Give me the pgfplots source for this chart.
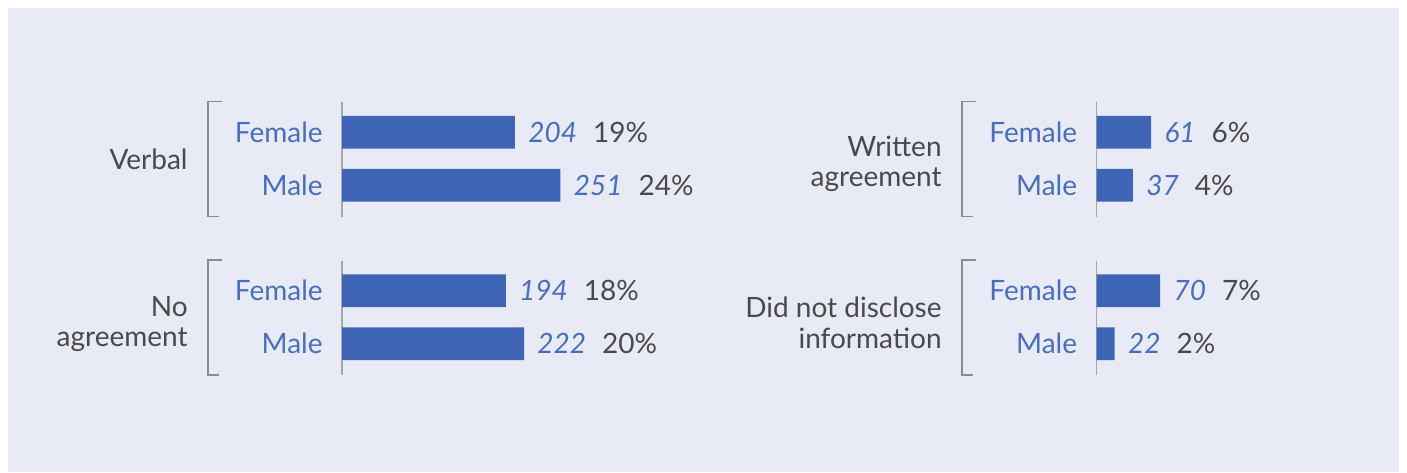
\documentclass[border=0pt]{standalone}
\usepackage{pgfplots}
\pgfplotsset{compat=1.18}
\usepackage{fontspec}
\setmainfont{Lato}
\definecolor{bg}{HTML}{E8EAF5}
\definecolor{barblue}{HTML}{3F65B6}
\definecolor{lblue}{HTML}{4A6EBE}
\definecolor{txtgray}{HTML}{4A4A4A}
\definecolor{axgray}{HTML}{A8A8A8}
\definecolor{brgray}{HTML}{8C8C8C}
\newcommand{\lfont}{\fontsize{14}{15.3}\selectfont}
\pgfplotsset{
  panel/.style={
    scale only axis, width=182pt, height=57.24pt,
    xmin=0, xmax=40, ymin=0.41, ymax=2.57,
    anchor=south west,
    xbar, bar width=16.35pt,
    hide x axis,
    axis y line*=left,
    y axis line style={axgray, line width=0.6pt, -},
    ytick={1,2}, yticklabels={Male,Female},
    major tick length=0pt,
    yticklabel style={font=\lfont, text=lblue, inner sep=0pt, anchor=east, xshift=-9.5pt},
    point meta=explicit symbolic,
    visualization depends on={x \as \pct},
    nodes near coords={\textcolor{lblue}{\itshape\pgfplotspointmeta}\hspace{8pt}\textcolor{txtgray}{\pgfmathprintnumber[assume math mode=true]{\pct}\%}},
    nodes near coords style={font=\lfont, anchor=west, inner sep=0pt, xshift=6.5pt},
    clip=false,
  },
  bars/.style={fill=barblue, draw=none}
}
\begin{document}
\begin{tikzpicture}[x=0.5pt,y=0.5pt]
\path[use as bounding box] (0,0) rectangle (1407,472);
\fill[bg] (8,0) rectangle (1399,464);
% Verbal
\begin{axis}[panel, at={(171pt,127.7pt)}]
\addplot[bars] coordinates {(19,2) [204] (24,1) [251]};
\end{axis}
% Written agreement
\begin{axis}[panel, at={(548.25pt,127.7pt)}]
\addplot[bars] coordinates {(6,2) [61] (4,1) [37]};
\end{axis}
% No agreement
\begin{axis}[panel, at={(171pt,48.5pt)}]
\addplot[bars] coordinates {(18,2) [194] (20,1) [222]};
\end{axis}
% Did not disclose
\begin{axis}[panel, at={(548.25pt,48.5pt)}]
\addplot[bars] coordinates {(7,2) [70] (2,1) [22]};
\end{axis}
% brackets
\draw[brgray, line width=0.8pt] (222,370.5) -| (208,255.4) -- (219,255.4);
\draw[brgray, line width=0.8pt] (976,370.5) -| (962,255.4) -- (973,255.4);
\draw[brgray, line width=0.8pt] (222,212) -| (208,97) -- (219,97);
\draw[brgray, line width=0.8pt] (976,212) -| (962,97) -- (973,97);
% group labels
\node[anchor=east, align=right, font=\lfont, text=txtgray, inner sep=0pt] at (188,313) {Verbal};
\node[anchor=east, align=right, font=\lfont, text=txtgray, inner sep=0pt] at (942,308) {Written\\agreement};
\node[anchor=east, align=right, font=\lfont, text=txtgray, inner sep=0pt] at (188,148) {No\\agreement};
\node[anchor=east, align=right, font=\lfont, text=txtgray, inner sep=0pt] at (942,149) {Did not disclose\\information};
\end{tikzpicture}
\end{document}
